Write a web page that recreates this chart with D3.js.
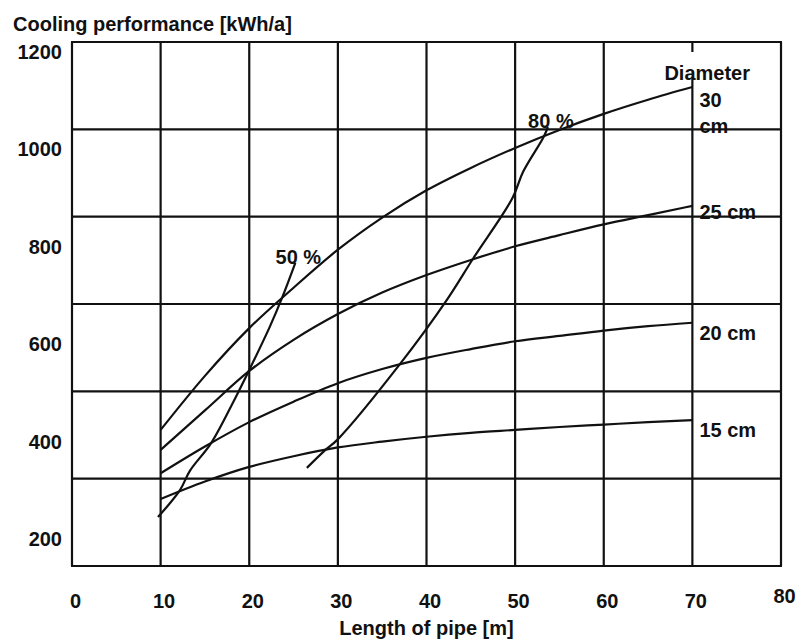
<!DOCTYPE html>
<html>
<head>
<meta charset="utf-8">
<script src="https://cdn.jsdelivr.net/npm/d3@7"></script>
<style>
  body { margin: 0; background: #fff; }
  svg { display: block; }
  text { font-family: "Liberation Sans", Arial, sans-serif; font-weight: bold; font-size: 20px; fill: #111; }
</style>
</head>
<body>
<svg id="chart" width="797" height="640"></svg>
<script>
// Pipe length [m] at which the diameter curves are sampled
const lengths = [10, 15, 20, 25, 30, 35, 40, 45, 50, 55, 60, 65, 70];

// Cooling performance [kWh/a] for each pipe diameter
const dia30 = [424, 535, 633, 716, 794, 860, 916, 962, 1003, 1040, 1073, 1102, 1128];
const dia25 = [383, 464, 545, 609, 662, 706, 742, 773, 801, 824, 846, 865, 884];
const dia20 = [335, 390, 440, 482, 520, 549, 572, 590, 606, 617, 628, 637, 644];
const dia15 = [282, 318, 348, 370, 388, 400, 410, 418, 424, 430, 435, 440, 444];

// Efficiency lines: pipe length [m] and cooling performance [kWh/a]
const eff50Len = [9.7, 12.2, 13.3, 15.7, 18.3, 20.0, 22.3, 23.7, 25.2];
const eff50Val = [245, 301, 340, 397, 485, 547, 635, 695, 767];
const eff80Len = [26.5, 28.6, 29.9, 37.0, 42.3, 45.3, 49.7, 50.9, 53.2, 53.7];
const eff80Val = [346, 383, 403, 559, 691, 777, 900, 954, 1025, 1046];

// Axis ticks
const xTicks = [0, 10, 20, 30, 40, 50, 60, 70, 80];
const yTicks = [200, 400, 600, 800, 1000, 1200];

const svg = d3.select("#chart");
const ink = "#111";

const frame = { left: 72, right: 781, top: 42, bottom: 566 };
const x = d3.scaleLinear().domain([0, 80]).range([frame.left, frame.right]);
const y = d3.scaleLinear().domain([200, 1200]).range([539, 52]);

// Grid: vertical lines on every x tick, six equal horizontal bands
const grid = svg.append("g").attr("stroke", ink).attr("stroke-width", 2.2).attr("fill", "none");
grid.selectAll("line.v").data(xTicks).join("line")
  .attr("class", "v")
  .attr("x1", d => x(d)).attr("x2", d => x(d))
  .attr("y1", frame.top).attr("y2", frame.bottom);
const rows = d3.range(7).map(i => frame.top + i * (frame.bottom - frame.top) / 6);
grid.selectAll("line.h").data(rows).join("line")
  .attr("class", "h")
  .attr("x1", frame.left - 1).attr("x2", frame.right + 1)
  .attr("y1", d => d).attr("y2", d => d);

// Heading of the diameter legend sits on a white box over the grid
const legendX = x(70) + 7;
svg.append("rect")
  .attr("x", x(70) - 30).attr("y", 52)
  .attr("width", 92).attr("height", 26)
  .attr("fill", "#fff");

// Diameter curves
const line = d3.line().x(d => x(d[0])).y(d => y(d[1])).curve(d3.curveMonotoneX);
const series = [
  { name: "30 cm", values: dia30 },
  { name: "25 cm", values: dia25 },
  { name: "20 cm", values: dia20 },
  { name: "15 cm", values: dia15 }
];
svg.append("g").selectAll("path").data(series).join("path")
  .attr("d", s => line(lengths.map((l, i) => [l, s.values[i]])))
  .attr("fill", "none").attr("stroke", ink).attr("stroke-width", 2.2)
  .attr("stroke-linejoin", "round");

// Efficiency lines
const effLine = d3.line().x(d => x(d[0])).y(d => y(d[1])).curve(d3.curveCatmullRom.alpha(0.5));
const effs = [
  { name: "50 %", len: eff50Len, val: eff50Val },
  { name: "80 %", len: eff80Len, val: eff80Val }
];
svg.append("g").selectAll("path").data(effs).join("path")
  .attr("d", e => effLine(e.len.map((l, i) => [l, e.val[i]])))
  .attr("fill", "none").attr("stroke", ink).attr("stroke-width", 2.2)
  .attr("stroke-linejoin", "round");
svg.append("g").selectAll("text").data(effs).join("text")
  .attr("x", e => x(e.len[e.len.length - 1]) + 3)
  .attr("y", e => y(e.val[e.val.length - 1]) + 1)
  .attr("text-anchor", "middle")
  .text(e => e.name);

// Diameter labels at the curve ends
svg.append("text").attr("x", x(70) - 28).attr("y", 80).text("Diameter");
const last = s => s.values[s.values.length - 1];
svg.append("text").attr("x", legendX).attr("y", y(last(series[0])) + 20).text("30");
svg.append("text").attr("x", legendX).attr("y", y(last(series[0])) + 46).text("cm");
const labelDy = { "25 cm": 13, "20 cm": 17, "15 cm": 17 };
svg.append("g").selectAll("text").data(series.slice(1)).join("text")
  .attr("x", legendX)
  .attr("y", s => y(last(s)) + labelDy[s.name])
  .text(s => s.name);

// Axes (labels only)
const yAxis = svg.append("g").attr("transform", "translate(62,0)")
  .call(d3.axisLeft(y).tickValues(yTicks).tickSize(0).tickPadding(0).tickFormat(d3.format("d")));
yAxis.select(".domain").remove();

const xAxis = svg.append("g").attr("transform", "translate(0,594)")
  .call(d3.axisBottom(x).tickValues(xTicks).tickSize(0).tickPadding(0).tickFormat(d3.format("d")));
xAxis.select(".domain").remove();
xAxis.selectAll("text").attr("dx", 3);
// the last label sits a little higher
xAxis.selectAll(".tick").filter(d => d === 80).select("text").attr("y", -5);

// Axis titles
svg.append("text").attr("x", 13).attr("y", 31).text("Cooling performance [kWh/a]");
svg.append("text").attr("x", x(40)).attr("y", 635).attr("text-anchor", "middle").text("Length of pipe [m]");
</script>
</body>
</html>
